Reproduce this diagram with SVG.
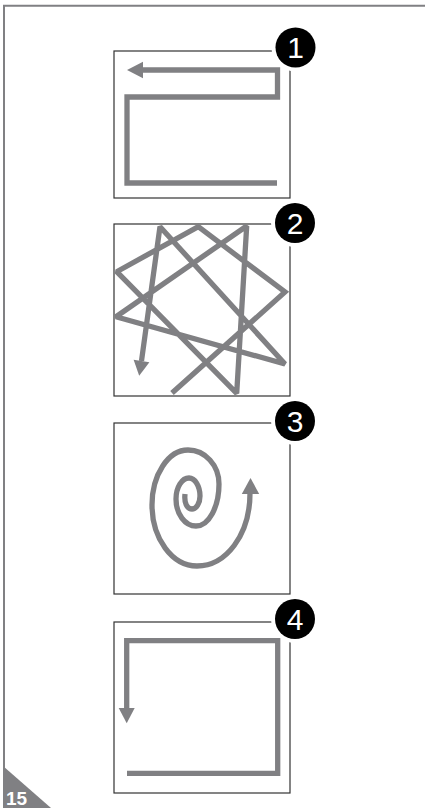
<svg xmlns="http://www.w3.org/2000/svg" width="425" height="808" viewBox="0 0 425 808">
<style>
.box{fill:none;stroke:#333;stroke-width:1.2}
.path{fill:none;stroke:#808083;stroke-width:5.3;stroke-linejoin:miter;stroke-linecap:butt}
.star{stroke-linejoin:miter;stroke-miterlimit:1.6}
.head{fill:#808083}
.ring{fill:#fff}
.dot{fill:#000}
.num{fill:#fff;font-family:"Liberation Sans",Arial,sans-serif;font-size:30px;text-anchor:middle}
.frame{fill:none;stroke:#808083;stroke-width:2}
</style>
<rect width="425" height="808" fill="#fff"/>
<g id="page">
<path class="frame" d="M4,770 V5.7 H425"/>
<polygon points="3,766 3,808 51,808" fill="#808083"/>
<text x="6" y="805" fill="#fff" font-family="'Liberation Sans',Arial,sans-serif" font-size="19" font-weight="bold">15</text>
</g>
<g id="panel1">
<rect class="box" x="114" y="51" width="176" height="147"/>
<path class="path" d="M277,183 H127 V97 H277.5 V70 H141"/>
<polygon class="head" points="127,70 143,61.7 143,78.3"/>
<circle class="ring" cx="295.5" cy="47.5" r="24"/>
<circle class="dot" cx="295.5" cy="47.5" r="20"/>
<text class="num" x="295.5" y="58">1</text>
</g>
<g id="panel2">
<rect class="box" x="114" y="224" width="176" height="172"/>
<path class="path star" d="M172,393 L285,292 L198.3,226.7 L116.7,271.7 L236.7,393.3 L246.7,226 L116,316.7 L285,364 L160,226.7 L141.5,361"/>
<polygon class="head" points="139.2,375.8 149.4,362.2 133.6,359.8"/>
<circle class="ring" cx="295" cy="223" r="24"/>
<circle class="dot" cx="295" cy="223" r="20"/>
<text class="num" x="295" y="233.5">2</text>
</g>
<g id="panel3">
<rect class="box" x="114" y="423" width="176" height="171"/>
<path class="path" d="M185,494 C184,503 187,509 192,509 C196.4,509 200,503.2 200,496 C200,486.1 195,478 189,478 C181.9,478 176,487.5 176,499 C176,513.9 185,526 196,526 C208.7,526 219,507.1 219,484 C219,465.3 205.1,450 188,450 C168.2,450 152,474.8 152,505 C152,538.6 172.2,566 197,566 C226,566 250,535 250,493"/>
<polygon class="head" points="250.5,478 241.8,494 259.2,494"/>
<circle class="ring" cx="295" cy="421" r="24"/>
<circle class="dot" cx="295" cy="421" r="20"/>
<text class="num" x="295" y="431.5">3</text>
</g>
<g id="panel4">
<rect class="box" x="114" y="622" width="176" height="171"/>
<path class="path" d="M127,773.3 H277.7 V640.7 H126.7 V709"/>
<polygon class="head" points="118.7,708 134.7,708 126.7,723.3"/>
<circle class="ring" cx="295" cy="619" r="24"/>
<circle class="dot" cx="295" cy="619" r="20"/>
<text class="num" x="295" y="629.5">4</text>
</g>
<g id="connectors"></g>
</svg>
